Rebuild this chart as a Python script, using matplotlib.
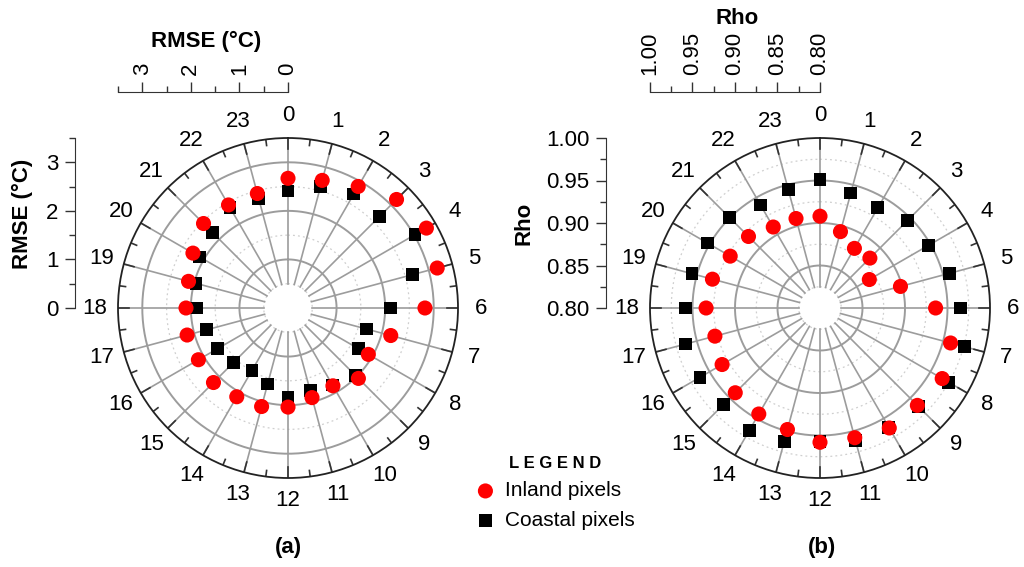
import matplotlib
matplotlib.use("Agg")
import matplotlib.pyplot as plt
import numpy as np

plt.rcParams['font.family'] = ['Liberation Sans', 'DejaVu Sans']

# Valori (ore 0..23)
hours = np.arange(24)
rmse_inland = [2.67, 2.72, 2.89, 3.16, 3.29, 3.18, 2.82, 2.19, 1.91, 2.05, 1.85, 1.91,
               2.04, 2.10, 2.11, 2.17, 2.13, 2.15, 2.10, 2.12, 2.26, 2.46, 2.45, 2.44]
rmse_coastal = [2.41, 2.59, 2.71, 2.66, 3.02, 2.66, 2.11, 1.67, 1.68, 1.96, 1.83, 1.76,
                1.84, 1.62, 1.48, 1.58, 1.68, 1.74, 1.88, 1.96, 2.10, 2.20, 2.39, 2.34]
rho_inland = [0.908, 0.893, 0.881, 0.883, 0.867, 0.898, 0.936, 0.959, 0.966, 0.962, 0.963, 0.958,
              0.958, 0.948, 0.944, 0.941, 0.933, 0.928, 0.934, 0.931, 0.922, 0.919, 0.910, 0.909]
rho_coastal = [0.951, 0.940, 0.936, 0.946, 0.947, 0.958, 0.965, 0.976, 0.975, 0.964, 0.962, 0.961,
               0.957, 0.963, 0.966, 0.960, 0.963, 0.964, 0.958, 0.956, 0.953, 0.950, 0.940, 0.944]

rmse_ticks = [0, 1, 2, 3]
rmse_minor = [0.5, 1.5, 2.5, 3.5]
rho_ticks = [0.80, 0.85, 0.90, 0.95, 1.00]
rho_minor = [0.825, 0.875, 0.925, 0.975]

W, H = 1024, 567
FS = 16
fig = plt.figure(figsize=(W / 100, H / 100), dpi=100)


def rect(x0, y0, x1, y1):
    # pixel -> frazioni della figura
    return [x0 / W, 1 - y1 / H, (x1 - x0) / W, (y1 - y0) / H]


def drawDial(cx, cy, rmin, rmax, hole, solid, dotted, inland, coastal):
    ax = fig.add_axes(rect(cx - 170, cy - 170, cx + 170, cy + 170), projection='polar')
    ax.set_theta_zero_location('N')
    ax.set_theta_direction(-1)
    ax.set_ylim(rmin, rmax)
    ax.grid(False)
    ax.set_xticks([])
    ax.set_yticks([])
    ax.spines['polar'].set_linewidth(1.3)
    ax.spines['polar'].set_color('#222222')

    th = np.linspace(0, 2 * np.pi, 400)
    for r in solid:
        ax.plot(th, np.full_like(th, r), color='#9c9c9c', lw=1.4, zorder=1)
    for r in dotted:
        ax.plot(th, np.full_like(th, r), color='#cfcfcf', lw=0.9, ls=(0, (1.5, 2.5)), zorder=1)

    span = rmax - rmin
    for h in hours:
        t = np.deg2rad(h * 15)
        ax.plot([t, t], [hole, rmax], color='#9c9c9c', lw=1.2, zorder=1)
    # tacche sul cerchio esterno
    for h in np.arange(0, 24, 0.5):
        t = np.deg2rad(h * 15)
        ln = 0.062 if h % 1 == 0 else 0.036
        ax.plot([t, t], [rmax - ln * span, rmax], color='#333333', lw=1.2, zorder=2)
        if h % 1 == 0:
            ax.text(t, rmin + 1.135 * span, str(int(h)), ha='center', va='center',
                    fontsize=FS, clip_on=False)

    theta = np.deg2rad(hours * 15)
    ax.scatter(theta, coastal, marker='s', s=85, color='black', edgecolors='none',
               zorder=3, clip_on=False, label='Coastal pixels')
    ax.scatter(theta, inland, marker='o', s=118, color='#ff0000', edgecolors='none',
               zorder=4, clip_on=False, label='Inland pixels')
    return ax


def drawScales(cx, cy, lo, hi, major, minor, fmt, title, vx, tx, tty, lx, ly):
    # scala verticale a sinistra
    axv = fig.add_axes(rect(vx, cy - 170, vx + 1, cy))
    axv.set_ylim(lo, hi)
    axv.set_xticks([])
    for s in ['top', 'right', 'bottom']:
        axv.spines[s].set_visible(False)
    axv.spines['left'].set_color('#333333')
    axv.set_yticks(major)
    axv.set_yticks(minor, minor=True)
    axv.set_yticklabels([fmt % v for v in major])
    axv.tick_params(axis='y', which='major', length=7, width=1, color='#333333', labelsize=FS, pad=5)
    axv.tick_params(axis='y', which='minor', length=4, width=1, color='#333333')
    axv.patch.set_visible(False)
    fig.text(lx / W, 1 - ly / H, title, rotation=90, ha='center', va='center',
             fontsize=FS, fontweight='bold')

    # scala orizzontale in alto
    axh = fig.add_axes(rect(cx - 170, 92, cx, 93))
    axh.set_xlim(hi, lo)
    axh.set_yticks([])
    for s in ['bottom', 'right', 'left']:
        axh.spines[s].set_visible(False)
    axh.spines['top'].set_color('#333333')
    axh.xaxis.tick_top()
    axh.set_xticks(major)
    axh.set_xticks(minor, minor=True)
    axh.set_xticklabels([fmt % v for v in major])
    axh.tick_params(axis='x', which='major', length=7, width=1, color='#333333', labelsize=FS,
                    pad=5, labelrotation=90)
    axh.tick_params(axis='x', which='minor', length=4, width=1, color='#333333')
    axh.patch.set_visible(False)
    fig.text(tx / W, 1 - tty / H, title, ha='center', va='center', fontsize=FS, fontweight='bold')


axA = drawDial(288, 308, 0, 3.5, 0.5, [1, 2, 3], [0.5, 1.5, 2.5], rmse_inland, rmse_coastal)
axB = drawDial(820, 308, 0.8, 1.0, 0.825, [0.85, 0.90, 0.95], [0.825, 0.875, 0.925, 0.975],
               rho_inland, rho_coastal)

drawScales(288, 308, 0, 3.5, rmse_ticks, rmse_minor, '%d', 'RMSE (°C)', 75, 206, 41, 22, 214)
drawScales(820, 308, 0.8, 1.0, rho_ticks, rho_minor, '%.2f', 'Rho', 606, 737, 19, 524, 223)

# Legenda
handles, labels = axA.get_legend_handles_labels()
leg = fig.legend(handles[::-1], labels[::-1], loc='upper left',
                 bbox_to_anchor=(475 / W, 1 - 456 / H), frameon=False, fontsize=15,
                 title='L E G E N D', title_fontproperties={'weight': 'bold', 'size': 12},
                 borderpad=0, borderaxespad=0, handlelength=1.0, handletextpad=0.45,
                 labelspacing=0.5, scatterpoints=1)

fig.text(288 / W, 1 - 547 / H, '(a)', ha='center', va='center', fontsize=FS, fontweight='bold')
fig.text(822 / W, 1 - 547 / H, '(b)', ha='center', va='center', fontsize=FS, fontweight='bold')

fig.savefig('out.png', dpi=100)
